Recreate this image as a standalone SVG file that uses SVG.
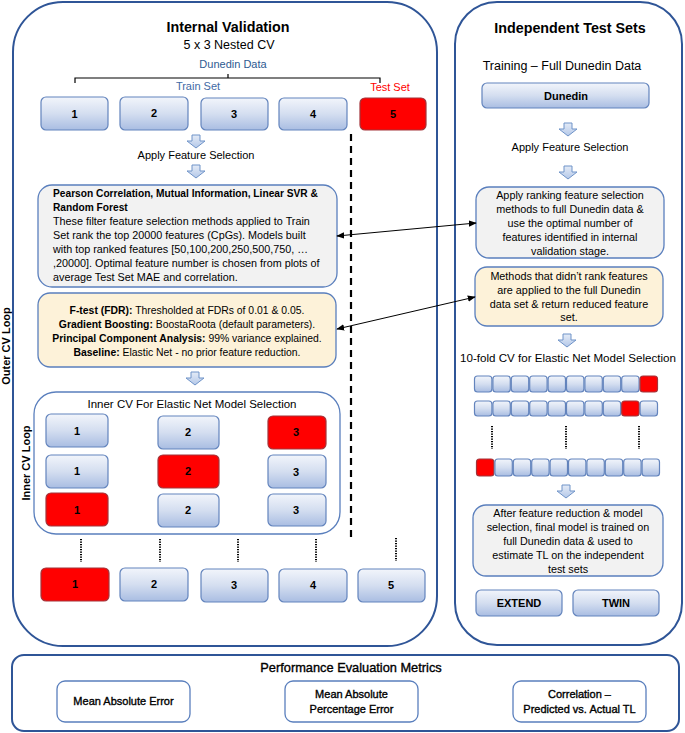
<svg xmlns="http://www.w3.org/2000/svg" width="685" height="733" viewBox="0 0 685 733">
<defs>
<linearGradient id="bg" x1="0" y1="0" x2="0" y2="1">
<stop offset="0" stop-color="#f2f5fb"/><stop offset="0.5" stop-color="#d4def0"/><stop offset="1" stop-color="#a9bde2"/>
</linearGradient>
<linearGradient id="ag" x1="0" y1="0" x2="0" y2="1">
<stop offset="0" stop-color="#e4ebf7"/><stop offset="1" stop-color="#b4c8e8"/>
</linearGradient>
<path id="barrow" d="M-4,0 h8 v6 h5 l-9,7 l-9,-7 h5 z" fill="url(#ag)" stroke="#6f93c8" stroke-width="1"/>
<marker id="ah" viewBox="0 0 10 10" refX="9" refY="5" markerWidth="8" markerHeight="8" markerUnits="userSpaceOnUse" orient="auto-start-reverse">
<path d="M0,1 L10,5 L0,9 z" fill="#000"/>
</marker>
<style>
text{font-family:"Liberation Sans",Arial,sans-serif;fill:#000}
.panel{fill:#fff;stroke:#2f5597;stroke-width:2}
.fold{fill:url(#bg);stroke:#6384bd;stroke-width:1.2}
.red{fill:#ff0000;stroke:#a3343a;stroke-width:1.2}
.gray{fill:#f2f2f2;stroke:#5a7fbd;stroke-width:1.3}
.yel{fill:#fdf2d9;stroke:#5a7fbd;stroke-width:1.3}
.wbox{fill:#fff;stroke:#5a7fbd;stroke-width:1.3}
.num{font-size:11px;font-weight:bold;text-anchor:middle}
.title{font-size:14.3px;font-weight:bold;text-anchor:middle}
.body{font-size:10.8px}
.c{text-anchor:middle}
.b{font-weight:bold}
.dash{stroke:#000;stroke-width:2.2;stroke-dasharray:7 5;fill:none}
.dot{stroke:#000;stroke-width:2;stroke-dasharray:1.3 1.2;fill:none}
.met{font-size:11px;text-anchor:middle;stroke:#000;stroke-width:0.35}
</style>
</defs>

<!-- Left panel: Internal validation -->
<g id="internal-validation">
<rect class="panel" x="13" y="2" width="424" height="644" rx="50"/>
<text class="title" x="228" y="32">Internal Validation</text>
<text class="c" x="229" y="49" font-size="12.5">5 x 3 Nested CV</text>
<text class="c" x="233" y="68" font-size="11" style="fill:#2e5a91">Dunedin Data</text>
<path d="M75,83 V78 H380 V83 M228,78 V74" fill="none" stroke="#000" stroke-width="1.2"/>
<text class="c" x="198" y="90" font-size="11" style="fill:#3f6aa5">Train Set</text>
<text class="c" x="390" y="91" font-size="11" style="fill:#ff0000">Test Set</text>
</g>

<g id="outer-fold-top">
<rect class="fold" x="41" y="97" width="67" height="33" rx="5"/><text class="num" x="74.5" y="118">1</text>
<rect class="fold" x="120" y="97" width="68" height="33" rx="5"/><text class="num" x="154" y="117">2</text>
<rect class="fold" x="201" y="98" width="67" height="32" rx="5"/><text class="num" x="234" y="118">3</text>
<rect class="fold" x="279" y="98" width="68" height="32" rx="5"/><text class="num" x="313" y="118">4</text>
<rect class="red" x="360" y="98" width="66" height="32" rx="5"/><text class="num" x="393" y="118">5</text>
</g>

<g id="apply-fs-left">
<use href="#barrow" x="196" y="135"/>
<text class="c" x="196" y="159" font-size="11">Apply Feature Selection</text>
<use href="#barrow" x="196" y="165"/>
</g>

<g id="ranking-methods">
<rect class="gray" x="38" y="185" width="299" height="102" rx="14"/>
<text class="b" x="53" y="197" font-size="10.2">Pearson Correlation, Mutual Information, Linear SVR &amp;</text>
<text class="b" x="53" y="211" font-size="10.2">Random Forest</text>
<text class="body" x="53" y="225">These filter feature selection methods applied to Train</text>
<text class="body" x="53" y="239">Set rank the top 20000 features (CpGs). Models built</text>
<text class="body" x="53" y="253">with top ranked features [50,100,200,250,500,750, …</text>
<text class="body" x="53" y="267">,20000]. Optimal feature number is chosen from plots of</text>
<text class="body" x="53" y="281">average Test Set MAE and correlation.</text>
</g>

<g id="non-ranking-methods">
<rect class="yel" x="38" y="293" width="298" height="74" rx="12"/>
<text class="c" x="187" y="314" font-size="10.4"><tspan class="b">F-test (FDR):</tspan> Thresholded at FDRs of 0.01 &amp; 0.05.</text>
<text class="c" x="187" y="328" font-size="10.4"><tspan class="b">Gradient Boosting:</tspan> BoostaRoota (default parameters).</text>
<text class="c" x="187" y="342" font-size="10.4"><tspan class="b">Principal Component Analysis:</tspan> 99% variance explained.</text>
<text class="c" x="187" y="356" font-size="10.4"><tspan class="b">Baseline:</tspan> Elastic Net - no prior feature reduction.</text>
</g>

<use href="#barrow" x="195" y="372"/>

<g id="inner-cv">
<rect class="wbox" x="34" y="392" width="306" height="142" rx="22"/>
<text class="c" x="192" y="408" font-size="11.5">Inner CV For Elastic Net Model Selection</text>
<rect class="fold" x="46" y="414" width="62" height="33" rx="5"/><text class="num" x="77" y="435">1</text>
<rect class="fold" x="158" y="416" width="61" height="33" rx="5"/><text class="num" x="188" y="436">2</text>
<rect class="red" x="268" y="416" width="58" height="33" rx="5"/><text class="num" x="296" y="436">3</text>
<rect class="fold" x="46" y="455" width="62" height="33" rx="5"/><text class="num" x="77" y="475">1</text>
<rect class="red" x="158" y="455" width="61" height="33" rx="5"/><text class="num" x="188" y="475">2</text>
<rect class="fold" x="268" y="455" width="58" height="33" rx="5"/><text class="num" x="296" y="476">3</text>
<rect class="red" x="46" y="493" width="62" height="33" rx="5"/><text class="num" x="77" y="514">1</text>
<rect class="fold" x="158" y="494" width="61" height="33" rx="5"/><text class="num" x="188" y="514">2</text>
<rect class="fold" x="268" y="494" width="58" height="32" rx="5"/><text class="num" x="296" y="514">3</text>
<text class="b" font-size="11" text-anchor="middle" transform="translate(29.5,463) rotate(-90)">Inner CV Loop</text>
</g>

<g id="outer-cv-label">
<text class="b" font-size="11" text-anchor="middle" transform="translate(9.5,346) rotate(-90)">Outer CV Loop</text>
</g>

<g id="outer-fold-bottom">
<rect class="red" x="41" y="568" width="68" height="33" rx="5"/><text class="num" x="75" y="588">1</text>
<rect class="fold" x="120" y="568" width="68" height="33" rx="5"/><text class="num" x="154" y="588">2</text>
<rect class="fold" x="201" y="569" width="67" height="33" rx="5"/><text class="num" x="234" y="589">3</text>
<rect class="fold" x="279" y="569" width="68" height="33" rx="5"/><text class="num" x="313" y="589">4</text>
<rect class="fold" x="358" y="569" width="67" height="33" rx="5"/><text class="num" x="391" y="589">5</text>
</g>

<!-- Right panel -->
<g id="independent-test-sets">
<rect class="panel" x="455" y="2" width="227" height="643" rx="42"/>
<text class="title" x="570" y="33">Independent Test Sets</text>
<text class="c" x="562" y="69.5" font-size="12.5">Training – Full Dunedin Data</text>
</g>

<g id="dunedin">
<rect class="fold" x="482" y="83" width="167" height="25" rx="5"/>
<text class="num" x="566" y="100">Dunedin</text>
</g>

<g id="apply-fs-right">
<use href="#barrow" x="568" y="123"/>
<text class="c" x="570" y="151" font-size="11">Apply Feature Selection</text>
<use href="#barrow" x="568" y="166"/>
</g>

<g id="ranking-full">
<rect class="gray" x="476" y="187" width="188" height="71" rx="13"/>
<text class="body c" x="570" y="198.5">Apply ranking feature selection</text>
<text class="body c" x="570" y="212.5">methods to full Dunedin data &amp;</text>
<text class="body c" x="570" y="226.5">use the optimal number of</text>
<text class="body c" x="570" y="240.5">features identified in internal</text>
<text class="body c" x="570" y="254.5">validation stage.</text>
</g>

<g id="nonranking-full">
<rect class="yel" x="475" y="267" width="188" height="59" rx="12"/>
<text class="body c" x="569" y="280">Methods that didn’t rank features</text>
<text class="body c" x="569" y="294">are applied to the full Dunedin</text>
<text class="body c" x="569" y="307.5">data set &amp; return reduced feature</text>
<text class="body c" x="569" y="321">set.</text>
</g>

<use href="#barrow" x="567" y="334"/>

<g id="tenfold-cv">
<text class="c" x="568" y="362" font-size="11.6">10-fold CV for Elastic Net Model Selection</text>
<g>
<rect class="fold" x="474.5" y="376" width="17.4" height="16" rx="3"/>
<rect class="fold" x="492.9" y="376" width="17.4" height="16" rx="3"/>
<rect class="fold" x="511.3" y="376" width="17.4" height="16" rx="3"/>
<rect class="fold" x="529.7" y="376" width="17.4" height="16" rx="3"/>
<rect class="fold" x="548.1" y="376" width="17.4" height="16" rx="3"/>
<rect class="fold" x="566.5" y="376" width="17.4" height="16" rx="3"/>
<rect class="fold" x="584.9" y="376" width="17.4" height="16" rx="3"/>
<rect class="fold" x="603.3" y="376" width="17.4" height="16" rx="3"/>
<rect class="fold" x="621.7" y="376" width="17.4" height="16" rx="3"/>
<rect class="red" x="640.1" y="376" width="17.4" height="16" rx="3"/>
</g>
<g>
<rect class="fold" x="474.5" y="401" width="17.4" height="15" rx="3"/>
<rect class="fold" x="492.9" y="401" width="17.4" height="15" rx="3"/>
<rect class="fold" x="511.3" y="401" width="17.4" height="15" rx="3"/>
<rect class="fold" x="529.7" y="401" width="17.4" height="15" rx="3"/>
<rect class="fold" x="548.1" y="401" width="17.4" height="15" rx="3"/>
<rect class="fold" x="566.5" y="401" width="17.4" height="15" rx="3"/>
<rect class="fold" x="584.9" y="401" width="17.4" height="15" rx="3"/>
<rect class="fold" x="603.3" y="401" width="17.4" height="15" rx="3"/>
<rect class="red" x="621.7" y="401" width="17.4" height="15" rx="3"/>
<rect class="fold" x="640.1" y="401" width="17.4" height="15" rx="3"/>
</g>
<g>
<rect class="red" x="476.5" y="459" width="17.4" height="17" rx="3"/>
<rect class="fold" x="494.9" y="459" width="17.4" height="17" rx="3"/>
<rect class="fold" x="513.3" y="459" width="17.4" height="17" rx="3"/>
<rect class="fold" x="531.7" y="459" width="17.4" height="17" rx="3"/>
<rect class="fold" x="550.1" y="459" width="17.4" height="17" rx="3"/>
<rect class="fold" x="568.5" y="459" width="17.4" height="17" rx="3"/>
<rect class="fold" x="586.9" y="459" width="17.4" height="17" rx="3"/>
<rect class="fold" x="605.3" y="459" width="17.4" height="17" rx="3"/>
<rect class="fold" x="623.7" y="459" width="17.4" height="17" rx="3"/>
<rect class="fold" x="642.1" y="459" width="17.4" height="17" rx="3"/>
</g>
<path class="dot" d="M492,426 V449 M566,426 V449 M639,426 V449"/>
</g>

<use href="#barrow" x="566" y="485"/>

<g id="final-model">
<rect class="gray" x="473" y="505" width="190" height="71" rx="13"/>
<text class="body c" x="568" y="517">After feature reduction &amp; model</text>
<text class="body c" x="568" y="531">selection, final model is trained on</text>
<text class="body c" x="568" y="545">full Dunedin data &amp; used to</text>
<text class="body c" x="568" y="559">estimate TL on the independent</text>
<text class="body c" x="568" y="573">test sets</text>
</g>

<g id="extend">
<rect class="fold" x="476" y="590" width="86" height="26" rx="5"/>
<text class="num" x="519" y="607">EXTEND</text>
</g>
<g id="twin">
<rect class="fold" x="573" y="590" width="86" height="26" rx="5"/>
<text class="num" x="616" y="607">TWIN</text>
</g>

<!-- Bottom panel -->
<g id="performance-metrics">
<rect class="panel" x="12" y="655" width="667" height="76" rx="12"/>
<text class="c" x="351" y="672" font-size="12.8" style="stroke:#000;stroke-width:0.35">Performance Evaluation Metrics</text>
</g>
<g id="mae">
<rect class="wbox" x="57" y="681" width="133" height="41" rx="8"/>
<text class="met" x="123.5" y="705">Mean Absolute Error</text>
</g>
<g id="mape">
<rect class="wbox" x="285" y="681" width="133" height="41" rx="8"/>
<text class="met" x="351.5" y="698">Mean Absolute</text>
<text class="met" x="351.5" y="713">Percentage Error</text>
</g>
<g id="correlation">
<rect class="wbox" x="513" y="681" width="133" height="41" rx="8"/>
<text class="met" x="579.5" y="698">Correlation –</text>
<text class="met" x="579.5" y="713">Predicted vs. Actual TL</text>
</g>

<!-- Connectors -->
<g id="connectors">
<path class="dash" d="M351,134 V537"/>
<path class="dot" d="M81,539 V562 M160,539 V562 M238,539 V562 M316,539 V562 M396,538 V561"/>
<line x1="337" y1="236" x2="476" y2="223" stroke="#000" stroke-width="1" marker-start="url(#ah)" marker-end="url(#ah)"/>
<line x1="337" y1="329" x2="475" y2="297" stroke="#000" stroke-width="1" marker-start="url(#ah)" marker-end="url(#ah)"/>
</g>
</svg>
